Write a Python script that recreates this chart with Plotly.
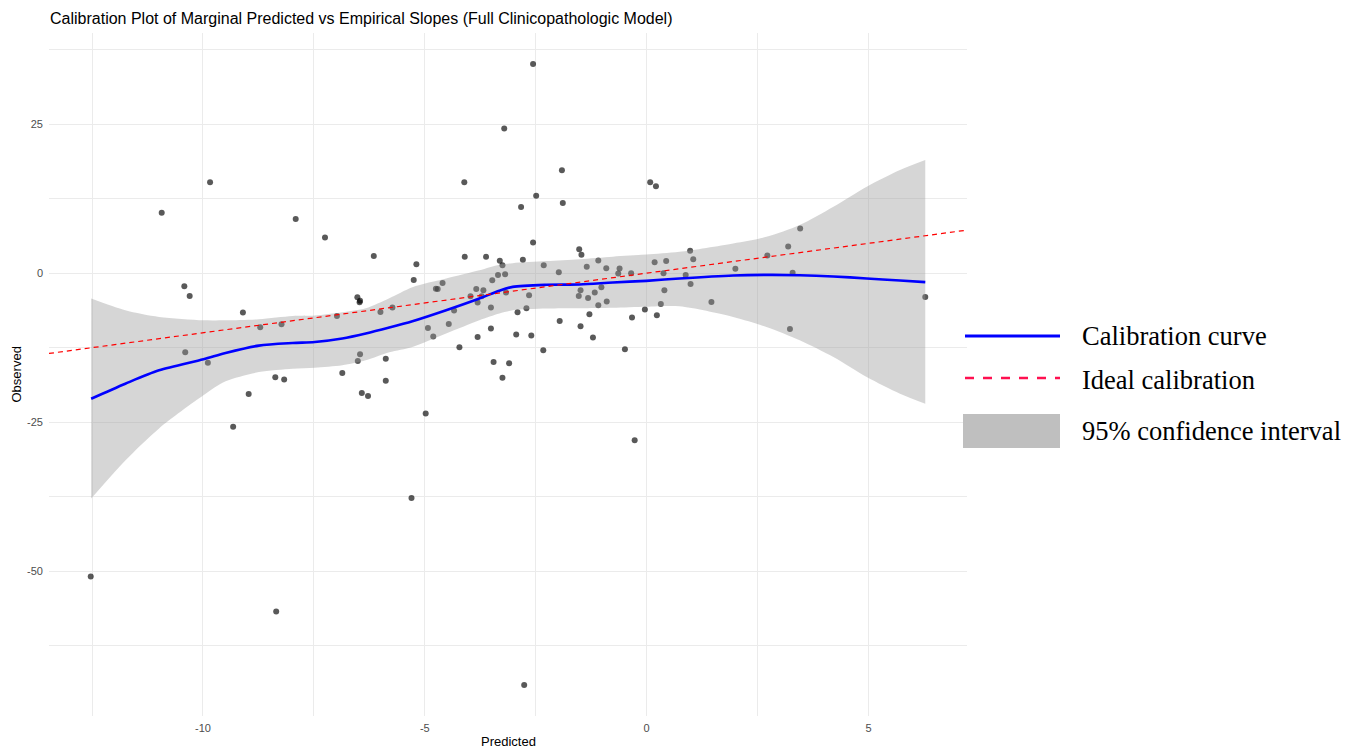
import plotly.graph_objects as go

# ---------------- data ----------------
pred = [-12.53, -10.93, -9.84, -10.42, -10.30, -10.40, -9.89, -9.32, -9.10, -8.97,
        -8.71, -8.37, -8.17, -8.23, -8.35, -7.91, -7.25, -6.98, -6.86, -6.52,
        -6.47, -6.46, -6.51, -6.46, -6.42, -6.28, -6.15, -6.00, -5.88, -5.88,
        -5.73, -5.30, -5.19, -5.25, -4.98, -4.93, -4.81, -4.71, -4.75, -4.60,
        -4.46, -4.34, -4.22, -4.10, -4.11, -3.97, -3.84, -3.81, -3.81, -3.72,
        -3.68, -3.62, -3.51, -3.51, -3.48, -3.45, -3.35, -3.31, -3.25, -3.25,
        -3.21, -3.19, -3.17, -3.10, -2.94, -2.91, -2.83, -2.79, -2.71, -2.65,
        -2.60, -2.76, -2.56, -2.56, -2.49, -2.33, -2.32, -1.98, -1.96, -1.91,
        -1.89, -1.52, -1.47, -1.49, -1.53, -1.49, -1.35, -1.32, -1.29, -1.21,
        -1.17, -1.09, -1.09, -1.02, -0.91, -0.90, -0.64, -0.61, -0.49, -0.35,
        -0.33, -0.27, -0.04, 0.08, 0.18, 0.21, 0.23, 0.32, 0.38, 0.40,
        0.44, 0.88, 0.98, 0.99, 1.05, 1.46, 2.00, 2.72, 3.19, 3.23,
        3.29, 3.46, 6.28]
obs = [-50.87, 10.13, 15.24, -2.18, -3.82, -13.28, -15.01, -25.76, -6.61, -20.29,
       -9.08, -17.48, -17.82, -8.57, -56.76, 9.08, 6.00, -7.18, -16.76, -4.03,
       -4.87, -4.62, -14.74, -13.61, -20.12, -20.62, 2.86, -6.50, -14.34, -18.03,
       -5.76, -37.70, 1.51, -1.13, -23.53, -9.19, -10.64, -2.64, -2.60, -1.63,
       -8.52, -6.27, -12.44, 2.74, 15.24, -3.87, -2.64, -4.92, -10.71, -3.87,
       -2.86, 2.74, -5.76, -9.29, -1.18, -14.91, -0.29, 2.07, 1.34, -17.53,
       24.25, -0.17, -3.24, -15.13, -10.30, -6.55, 11.09, 2.24, -5.88, -3.70,
       -10.47, -69.08, 35.08, 5.16, 12.99, -12.94, 1.34, 0.17, -8.02, 17.26,
       11.76, 4.03, 3.08, -2.86, -3.82, -8.91, 1.06, -4.15, -6.89, -10.81,
       -3.24, 2.13, -5.38, -2.35, 0.84, -4.76, -0.05, 0.79, -12.77, 0.00,
       -7.45, -28.02, -6.10, 15.24, 1.85, 14.57, -7.06, -5.16, 0.00, -2.86,
       2.02, -0.29, 3.75, -1.80, 2.35, -4.82, 0.72, 2.97, 4.49, -9.36,
       0.05, 7.51, -3.98]

curve_x = [-12.52, -11.75, -10.99, -9.99, -9.49, -8.74, -7.98, -7.48, -6.86, -6.33,
           -5.80, -5.28, -4.52, -3.77, -3.32, -3.02, -2.26, -1.51, -0.76, -0.01,
           0.74, 1.95, 2.70, 3.45, 4.21, 4.96, 5.71, 6.28]
curve_y = [-21.06, -18.54, -16.30, -14.45, -13.39, -12.15, -11.71, -11.55, -10.97, -10.13,
           -9.13, -8.07, -6.22, -4.25, -2.94, -2.30, -1.95, -1.90, -1.56, -1.29,
           -0.89, -0.39, -0.29, -0.34, -0.55, -0.89, -1.23, -1.51]
ci_upper = [-4.25, -6.22, -7.34, -7.90, -7.90, -7.73, -7.18, -7.11, -6.55, -5.88,
            -4.20, -2.35, -0.89, 0.50, 1.43, 1.68, 2.02, 2.35, 2.77, 3.11,
            3.58, 4.99, 6.10, 8.07, 11.14, 14.50, 17.31, 18.99]
ci_lower = [-37.82, -31.43, -26.05, -20.50, -18.15, -16.59, -16.02, -15.85, -15.46, -14.62,
            -13.28, -12.39, -10.13, -7.90, -6.77, -6.22, -5.93, -5.88, -5.80, -5.63,
            -5.55, -7.34, -9.03, -11.26, -14.07, -17.43, -20.22, -21.90]

x_tickvals = [-10, -5, 0, 5]
x_ticktext = ["-10", "-5", "0", "5"]
y_tickvals = [-50, -25, 0, 25]
y_ticktext = ["-50", "-25", "0", "25"]

legend_labels = ["Calibration curve", "Ideal calibration", "95% confidence interval"]

title_text = "Calibration Plot of Marginal Predicted vs Empirical Slopes (Full Clinicopathologic Model)"

# ---------------- ranges (ggplot-like 5% expansion) ----------------
xmin, xmax = min(pred + curve_x), max(pred + curve_x)
xpad = 0.05 * (xmax - xmin)
xr = [xmin - xpad, xmax + xpad]
ymin, ymax = min(obs + ci_lower), max(obs + ci_upper)
ypad = 0.05 * (ymax - ymin)
yr = [ymin - ypad, ymax + ypad]

W, H = 1359, 751
ML, MR, MT, MB = 49, 392, 33, 35
PW, PH = W - ML - MR, H - MT - MB


def px2paper_x(px):
    return (px - ML) / PW


def px2paper_y(py):
    return (H - MB - py) / PH


SANS = "Liberation Sans, Arial, sans-serif"
SERIF = "Liberation Serif, Times New Roman, serif"
TICK_COL = "#4d4d4d"

fig = go.Figure()

# points
fig.add_trace(go.Scatter(
    x=pred, y=obs, mode="markers",
    marker=dict(size=6, color="rgba(0,0,0,0.65)", line=dict(width=0)),
    showlegend=False, hoverinfo="x+y"))

# confidence ribbon (lower edge, then upper edge filled down to it)
fig.add_trace(go.Scatter(
    x=curve_x, y=ci_lower, mode="lines",
    line=dict(width=0, color="rgba(0,0,0,0)", shape="spline", smoothing=0.8),
    showlegend=False, hoverinfo="skip"))
fig.add_trace(go.Scatter(
    x=curve_x, y=ci_upper, mode="lines", fill="tonexty",
    fillcolor="rgba(153,153,153,0.4)",
    line=dict(width=0, color="rgba(0,0,0,0)", shape="spline", smoothing=0.8),
    showlegend=False, hoverinfo="skip"))

# calibration curve
fig.add_trace(go.Scatter(
    x=curve_x, y=curve_y, mode="lines",
    line=dict(color="#0000ff", width=2.6, shape="spline", smoothing=0.8),
    showlegend=False))

# ideal line y = x
fig.add_trace(go.Scatter(
    x=xr, y=xr, mode="lines",
    line=dict(color="#ff0000", width=1.2, dash="5px,4px"),
    showlegend=False, hoverinfo="skip"))

grid_major = "#ebebeb"
fig.update_xaxes(
    range=xr, tickvals=x_tickvals, ticktext=x_ticktext,
    showgrid=True, gridcolor=grid_major, gridwidth=1.1,
    minor=dict(dtick=2.5, tick0=0, showgrid=True, gridcolor=grid_major, gridwidth=0.6),
    zeroline=False, showline=False, ticks="", color=TICK_COL,
    tickfont=dict(family=SANS, size=11, color=TICK_COL),
    ticklabelstandoff=4)
fig.update_yaxes(
    range=yr, tickvals=y_tickvals, ticktext=y_ticktext,
    showgrid=True, gridcolor=grid_major, gridwidth=1.1,
    minor=dict(dtick=12.5, tick0=0, showgrid=True, gridcolor=grid_major, gridwidth=0.6),
    zeroline=False, showline=False, ticks="", color=TICK_COL,
    tickfont=dict(family=SANS, size=11, color=TICK_COL),
    ticklabelstandoff=5)

annotations = [
    dict(text="Predicted", x=0.5, y=px2paper_y(741), xref="paper", yref="paper",
         showarrow=False, xanchor="center", yanchor="middle",
         font=dict(family=SANS, size=13, color="#000000")),
    dict(text="Observed", x=px2paper_x(16), y=0.5, xref="paper", yref="paper",
         showarrow=False, xanchor="center", yanchor="middle", textangle=-90,
         font=dict(family=SANS, size=13, color="#000000")),
]
legend_y = [336, 380, 431]
for lab, ly in zip(legend_labels, legend_y):
    annotations.append(dict(
        text=lab, x=px2paper_x(1080), y=px2paper_y(ly), xref="paper", yref="paper",
        showarrow=False, xanchor="left", yanchor="middle",
        font=dict(family=SERIF, size=26.5, color="#000000")))

shapes = [
    dict(type="line", xref="paper", yref="paper",
         x0=px2paper_x(965), x1=px2paper_x(1060), y0=px2paper_y(336), y1=px2paper_y(336),
         line=dict(color="#0000ff", width=3)),
    dict(type="line", xref="paper", yref="paper",
         x0=px2paper_x(965), x1=px2paper_x(1060), y0=px2paper_y(378), y1=px2paper_y(378),
         line=dict(color="#ff1050", width=2.5, dash="9px,9px")),
    dict(type="rect", xref="paper", yref="paper",
         x0=px2paper_x(963), x1=px2paper_x(1060), y0=px2paper_y(448), y1=px2paper_y(414),
         line=dict(width=0), fillcolor="#bfbfbf"),
]

fig.update_layout(
    template="none",
    width=W, height=H,
    margin=dict(l=ML, r=MR, t=MT, b=MB, pad=0),
    paper_bgcolor="white", plot_bgcolor="white",
    title=dict(text=title_text, x=50 / W, xanchor="left", y=1 - 18 / H, yanchor="middle",
               font=dict(family=SANS, size=16, color="#000000")),
    annotations=annotations, shapes=shapes,
    showlegend=False)

fig.write_html("out.html")
